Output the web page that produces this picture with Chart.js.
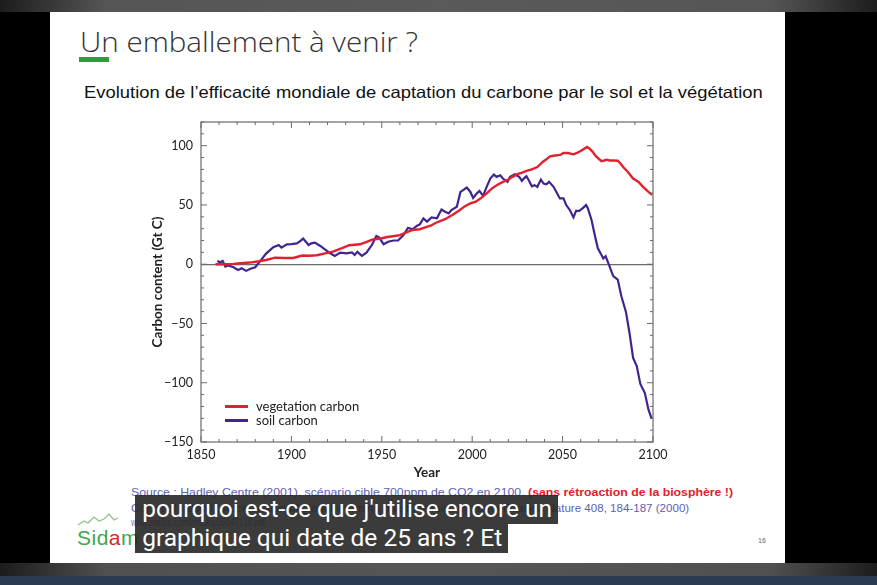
<!DOCTYPE html>
<html>
<head>
<meta charset="utf-8">
<script src="https://cdn.jsdelivr.net/npm/chart.js@4.4.1/dist/chart.umd.min.js"></script>
<style>
  html, body { margin: 0; padding: 0; }
  body { width: 877px; height: 585px; background: #000; position: relative; overflow: hidden; font-family: "Liberation Sans", Arial, sans-serif; }
  .abs { position: absolute; white-space: nowrap; }
  #topbar { left: 0; top: 0; width: 877px; height: 12px; background: linear-gradient(90deg, #1c1c1c 0%, #555 12%, #5a5a5a 50%, #555 88%, #1c1c1c 100%); }
  #botbar { left: 0; top: 563px; width: 877px; height: 13px; background: linear-gradient(90deg, #1c1c1c 0%, #505050 12%, #565656 50%, #505050 88%, #1c1c1c 100%); }
  #navy { left: 0; top: 576px; width: 877px; height: 9px; background: #2b3b52; }
  #slide { left: 50px; top: 12px; width: 735px; height: 551px; background: #fff; }
  #title { left: 80px; top: 22px; font-family: "Open Sans", sans-serif; font-weight: 300; font-size: 28px; color: #333; transform-origin: left top; }
  #greenbar { left: 79px; top: 57px; width: 30px; height: 5px; background: #21a23d; }
  #subtitle { left: 84px; top: 84px; line-height: 1; font-family: "Liberation Sans", Arial, sans-serif; font-size: 16.5px; color: #111; transform-origin: left top; }
  #chartbox { left: 145px; top: 115px; width: 525px; height: 370px; }
  #legend { left: 225px; top: 399px; font-family: Lato, sans-serif; font-size: 13px; color: #222; }
  #legend div { height: 14px; line-height: 14px; position: relative; padding-left: 31px; }
  #legend span { position: absolute; left: 0; top: 6px; width: 23px; height: 3px; }
  .src { font-size: 11.5px; color: #5d5fb5; transform-origin: left top; }
  .red { color: #e0202a; font-weight: bold; }
  #logo { left: 77px; top: 526px; font-size: 21px; color: #3fa847; letter-spacing: 0.5px; }
  #logo b { color: #d8262b; font-weight: normal; }
  #pagenum { left: 758px; top: 537px; font-size: 7px; color: #666; }
  .cap { background: rgba(38,38,38,0.9); height: 29px; }
  .captext { font-family: Roboto, sans-serif; font-size: 24px; color: #fff; line-height: 29px; transform-origin: left top; display: inline-block; padding-left: 7px; }
</style>
</head>
<body>
<div id="topbar" class="abs"></div>
<div id="slide" class="abs"></div>
<div id="botbar" class="abs"></div>
<div id="navy" class="abs"></div>

<div id="title" class="abs" data-w="338">Un emballement à venir ?</div>
<div id="greenbar" class="abs"></div>
<div id="subtitle" class="abs" data-w="679">Evolution de l’efficacité mondiale de captation du carbone par le sol et la végétation</div>

<div id="chartbox" class="abs"><canvas id="carbon"></canvas></div>
<div id="legend" class="abs"></div>

<div class="abs src" style="left:131px;top:486px" data-w="602">Source : Hadley Centre (2001), scénario cible 700ppm de CO2 en 2100, <span class="red">(sans rétroaction de la biosphère !)</span></div>
<div class="abs src" style="left:131px;top:502px" data-w="558">Cox et al. (2000), Acceleration of global warming due to carbon-cycle feedbacks, Nature 408, 184-187 (2000)</div>
<div class="abs src" style="left:131px;top:516px;color:#7b7cae" data-w="134">www.nature.com/articles/35047138.pdf</div>

<svg class="abs" style="left:76px;top:512px" width="60" height="16">
  <polyline points="2,13 8,9 12,11 18,5 23,9 28,7 33,2 38,8 42,6" fill="none" stroke="#8fbf8a" stroke-width="1.2"/>
</svg>
<div id="logo" class="abs">Sid<b>a</b>m</div>
<div id="pagenum" class="abs">16</div>

<div class="abs cap" style="left:135px;top:495px;width:423px"><span class="captext" data-w="410">pourquoi est-ce que j'utilise encore un</span></div>
<div class="abs cap" style="left:135px;top:524px;width:373px"><span class="captext" data-w="360">graphique qui date de 25 ans ? Et</span></div>

<script>
// valeurs (Hadley Centre, Cox et al. 2000)
var vegYears = [1858, 1864, 1868, 1872, 1877, 1882, 1886, 1891, 1896, 1901, 1906, 1910, 1914, 1918, 1923, 1928, 1932, 1938,
    1942, 1945, 1949, 1953, 1957, 1960, 1964, 1967, 1971, 1974, 1977, 1980, 1985, 1989, 1993, 1996, 1999, 2002, 2005,
    2008, 2011, 2014, 2017, 2020, 2022, 2025, 2028, 2030, 2033, 2036, 2039, 2041, 2043, 2045, 2047, 2049, 2050.5, 2053,
    2056, 2058, 2060, 2062, 2063.5, 2065, 2066.5, 2068.5, 2071.5, 2073, 2074.5, 2076, 2078, 2080.5, 2082, 2083.5, 2086,
    2089, 2092, 2094.5, 2097.5, 2099.5];
var vegValues = [0, 0, 0.3, 0.8, 1.4, 2.5, 3.6, 5.6, 5.2, 5.3, 7.3, 7.2, 7.6, 9, 10.6, 13.5, 16, 16.8,
    19, 21, 21.5, 23, 23.8, 24.6, 27, 28.9, 29.5, 31, 32.5, 35, 38, 41.5, 45.5, 49, 51.3, 52.7, 56,
    59.7, 64, 67, 69.5, 71.5, 73.5, 76, 77.5, 78.7, 80, 82, 86.3, 88.5, 91, 91.5, 91.9, 92.5, 93.8, 93.8,
    92.7, 94, 95.5, 97.5, 99, 97.5, 95, 91, 87, 87.5, 88.2, 87.5, 87.5, 87.3, 85, 82, 78,
    72.3, 69.5, 65.3, 61, 58.5];

var soilYears = [1859, 1860.5, 1862, 1863.5, 1865, 1868, 1870.5, 1872.5, 1875, 1877, 1880, 1882.5, 1886, 1890, 1893,
    1894.5, 1897.5, 1900, 1903, 1904.5, 1906.5, 1909.5, 1911, 1913, 1916, 1918.5, 1921.5, 1924, 1927, 1930.5, 1933.5,
    1935, 1936.5, 1939, 1941.5, 1944.5, 1947, 1948.5, 1951, 1953.5, 1956.5, 1959, 1962, 1964.5, 1967, 1969.5, 1971,
    1973, 1975, 1977.5, 1980.5, 1983, 1985, 1987, 1988.5, 1991.5, 1993.5, 1995, 1997, 1999, 2000.5, 2002.5, 2004,
    2006, 2008, 2010, 2012, 2013.5, 2015.5, 2017, 2019.5, 2021, 2023.5, 2026, 2027.5, 2028.5, 2030, 2031.5, 2033,
    2034.5, 2036, 2038, 2039.5, 2041, 2042.5, 2045, 2047, 2048.5, 2050.5, 2052, 2054, 2056, 2057.5, 2059, 2061,
    2063, 2064, 2066, 2068, 2069.5, 2071.5, 2072.5, 2073.8, 2075.5, 2078, 2080.5, 2082.5, 2085, 2087, 2089, 2091,
    2093, 2095.5, 2097.5, 2099.3];
var soilValues = [2.8, 1.7, 2.8, -2, -1, -2.5, -4.8, -3.4, -5.6, -4, -2.5, 2.2, 9, 14.3, 16.2,
    14, 16.8, 17, 17.6, 19, 21.6, 16.2, 17.6, 18.2, 15.4, 12.6, 9.2, 7, 9.8, 9.2, 10,
    7.8, 10.4, 7, 9.8, 16.2, 23.8, 22.7, 16.8, 19, 20, 20, 24.6, 30.8, 29.4, 32.5, 33.6,
    38.7, 35.9, 39.5, 38.7, 46.2, 44.3, 42.9, 45.7, 48.5, 61, 62.5, 64.7, 61, 56, 59.7, 61.9,
    57.7, 65.3, 72.3, 75.6, 73.7, 75, 72.3, 69.5, 73.7, 75.9, 73.7, 70.3, 72.3, 74.2, 70.3, 65.8,
    66.7, 65.3, 71.4, 68, 67.5, 69.5, 65.3, 59.7, 55.5, 55.5, 49.9, 45.7, 39.5, 45.1, 44.8, 47.1,
    49.9, 47, 37.3, 23.2, 13.4, 7.8, 4.8, 6.7, 0, -10, -13, -27, -40, -58, -79, -86,
    -101, -108.7, -122.7, -130.5];

var xTicks = [1850, 1900, 1950, 2000, 2050, 2100];
var yTicks = [-150, -100, -50, 0, 50, 100];
var seriesLabels = ['vegetation carbon', 'soil carbon'];

function toPoints(xs, ys) {
    return xs.map(function(x, i) { return { x: x, y: ys[i] }; });
}

// petites graduations vers l'intérieur sur les 4 côtés + cadre
var frameTicks = {
    id: 'frameTicks',
    afterDatasetsDraw: function(chart) {
        var ctx = chart.ctx, a = chart.chartArea;
        var sx = chart.scales.x, sy = chart.scales.y;
        ctx.save();
        ctx.strokeStyle = '#6a6a6a';
        ctx.lineWidth = 1.2;
        ctx.strokeRect(a.left, a.top, a.right - a.left, a.bottom - a.top);
        ctx.lineWidth = 1;
        for (var v = sx.min; v <= sx.max; v += 10) {
            var px = sx.getPixelForValue(v);
            var len = (v % 50 === 0) ? 6 : 3;
            ctx.beginPath();
            ctx.moveTo(px, a.bottom); ctx.lineTo(px, a.bottom - len);
            ctx.moveTo(px, a.top); ctx.lineTo(px, a.top + len);
            ctx.stroke();
        }
        for (var w = sy.min; w <= sy.max; w += 10) {
            var py = sy.getPixelForValue(w);
            var l2 = (w % 50 === 0) ? 6 : 3;
            ctx.beginPath();
            ctx.moveTo(a.left, py); ctx.lineTo(a.left + l2, py);
            ctx.moveTo(a.right, py); ctx.lineTo(a.right - l2, py);
            ctx.stroke();
        }
        ctx.restore();
    }
};

var tickFont = { family: 'Lato', size: 12.5 };
var chart = new Chart(document.getElementById('carbon'), {
    type: 'line',
    data: {
        datasets: [{
            label: seriesLabels[0],
            data: toPoints(vegYears, vegValues),
            borderColor: '#e2202e',
            borderWidth: 2.4
        }, {
            label: seriesLabels[1],
            data: toPoints(soilYears, soilValues),
            borderColor: '#41258f',
            borderWidth: 2.2
        }]
    },
    options: {
        responsive: true,
        maintainAspectRatio: false,
        animation: false,
        elements: { point: { radius: 0 }, line: { tension: 0 } },
        layout: { padding: { top: 7, right: 17, left: 0, bottom: 0 } },
        plugins: { legend: { display: false }, tooltip: { enabled: false } },
        scales: {
            x: {
                type: 'linear',
                min: 1850,
                max: 2100,
                afterBuildTicks: function(s) { s.ticks = xTicks.map(function(v) { return { value: v }; }); },
                afterFit: function(s) { s.height = 43; s.paddingLeft = 0; s.paddingRight = 0; },
                grid: { display: false, drawTicks: false },
                border: { display: false },
                ticks: { padding: 5, color: '#222', font: tickFont, maxRotation: 0,
                    callback: function(v) { return String(v); } },
                title: { display: true, text: 'Year', color: '#222',
                    font: { family: 'Lato', size: 13.5, weight: 'bold' }, padding: { top: 0, bottom: 4 } }
            },
            y: {
                min: -150,
                max: 120,
                afterBuildTicks: function(s) { s.ticks = yTicks.map(function(v) { return { value: v }; }); },
                afterFit: function(s) { s.width = 56; s.paddingTop = 0; s.paddingBottom = 0; },
                grid: { drawTicks: false, lineWidth: 1.2,
                    color: function(c) { return c.tick && c.tick.value === 0 ? '#6a6a6a' : 'rgba(0,0,0,0)'; } },
                border: { display: false },
                ticks: { padding: 8, color: '#222', font: tickFont,
                    callback: function(v) { return v < 0 ? '\u2212' + Math.abs(v) : String(v); } },
                title: { display: true, text: 'Carbon content (Gt C)', color: '#222',
                    font: { family: 'Lato', size: 13.5, weight: 'bold' }, padding: { top: 5, bottom: 0 } }
            }
        }
    },
    plugins: [frameTicks]
});

// légende dans le graphique, en bas à gauche
var legend = document.getElementById('legend');
chart.data.datasets.forEach(function(ds) {
    var row = document.createElement('div');
    row.innerHTML = '<span style="background:' + ds.borderColor + '"></span>' + ds.label;
    legend.appendChild(row);
});

// ajuster la largeur des textes à celle de la diapo
document.querySelectorAll('[data-w]').forEach(function(el) {
    var w = el.getBoundingClientRect().width;
    if (el.classList.contains('captext')) w -= 7;
    var k = Number(el.getAttribute('data-w')) / w;
    el.style.transform = 'scaleX(' + k.toFixed(3) + ')';
});
</script>
</body>
</html>
